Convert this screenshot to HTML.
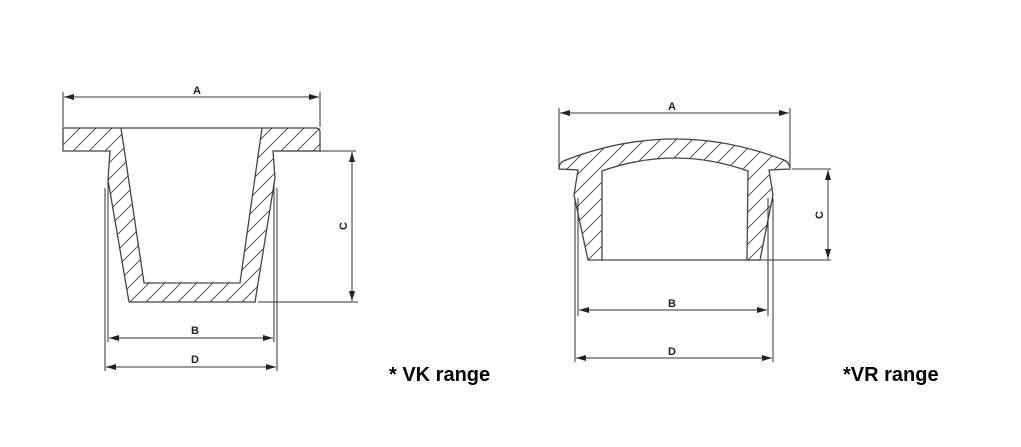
<!DOCTYPE html>
<html><head><style>
html,body{margin:0;padding:0;background:#fff;width:1021px;height:447px;overflow:hidden}
svg{display:block}
.o{stroke:#444;stroke-width:1.3}
.d{stroke:#333;stroke-width:1;fill:none}
.t{font-family:"Liberation Sans",sans-serif;font-weight:bold;font-size:11px;fill:#222}
.big{font-family:"Liberation Sans",sans-serif;font-weight:bold;font-size:20px;fill:#000}
</style></head><body>
<svg width="1021" height="447" viewBox="0 0 1021 447">
<defs>
<pattern id="h" patternUnits="userSpaceOnUse" x="0" y="0" width="16" height="16">
<path d="M0,16 L16,0 M-3,3 L3,-3 M13,19 L19,13" stroke="#555" stroke-width="1" fill="none"/>
</pattern>
<marker id="ae" markerWidth="10" markerHeight="6" refX="10" refY="3" orient="auto" markerUnits="userSpaceOnUse"><path d="M0,0 L10,3 L0,6Z" fill="#222"/></marker>
<marker id="as" markerWidth="10" markerHeight="6" refX="0" refY="3" orient="auto" markerUnits="userSpaceOnUse"><path d="M10,0 L0,3 L10,6Z" fill="#222"/></marker>
</defs>

<path d="M63,128 L316,128 Q320,128 320,132 L320,151 L273,151 L275,178 L255,302 L129,302 L108,180 L110,151 L63,151 Z M121,128 L144,283 L240,283 L262,128 Z" fill="url(#h)" fill-rule="evenodd" class="o"/>
<line class="d" x1="63" y1="92" x2="63" y2="127"/><line class="d" x1="320" y1="92" x2="320" y2="127"/>
<line class="d" x1="64" y1="97" x2="319" y2="97" marker-start="url(#as)" marker-end="url(#ae)"/>
<text class="t" x="197" y="94" text-anchor="middle">A</text>
<line class="d" x1="274" y1="151" x2="356" y2="151"/><line class="d" x1="258" y1="302" x2="358" y2="302"/>
<line class="d" x1="352" y1="152" x2="352" y2="301" marker-start="url(#as)" marker-end="url(#ae)"/>
<text class="t" transform="translate(347,226) rotate(-90)" text-anchor="middle">C</text>
<line class="d" x1="108" y1="182" x2="108" y2="342"/><line class="d" x1="274" y1="182" x2="274" y2="342"/>
<line class="d" x1="109" y1="338" x2="273" y2="338" marker-start="url(#as)" marker-end="url(#ae)"/>
<text class="t" x="195" y="334" text-anchor="middle">B</text>
<line class="d" x1="105" y1="188" x2="105" y2="371"/><line class="d" x1="277" y1="188" x2="277" y2="371"/>
<line class="d" x1="106" y1="367" x2="276" y2="367" marker-start="url(#as)" marker-end="url(#ae)"/>
<text class="t" x="195" y="363" text-anchor="middle">D</text>

<path d="M559,169 Q559,162 566,160 Q675,118 784,160 Q790,163 790,169 L769,170 L773,195 L760,260 L588,260 L574,195 L578,170 Z M602,171 Q675,145 748,171 L747,260 L602,260 Z" fill="url(#h)" fill-rule="evenodd" class="o"/>
<line class="d" x1="559" y1="108" x2="559" y2="168"/><line class="d" x1="790" y1="108" x2="790" y2="168"/>
<line class="d" x1="560" y1="113" x2="789" y2="113" marker-start="url(#as)" marker-end="url(#ae)"/>
<text class="t" x="672" y="110" text-anchor="middle">A</text>
<line class="d" x1="792" y1="169" x2="831" y2="169"/><line class="d" x1="746" y1="260" x2="831" y2="260"/>
<line class="d" x1="828" y1="170" x2="828" y2="259" marker-start="url(#as)" marker-end="url(#ae)"/>
<text class="t" transform="translate(823,215) rotate(-90)" text-anchor="middle">C</text>
<line class="d" x1="578" y1="198" x2="578" y2="316"/><line class="d" x1="768" y1="198" x2="768" y2="316"/>
<line class="d" x1="579" y1="310" x2="767" y2="310" marker-start="url(#as)" marker-end="url(#ae)"/>
<text class="t" x="672" y="307" text-anchor="middle">B</text>
<line class="d" x1="575" y1="198" x2="575" y2="362"/><line class="d" x1="773" y1="198" x2="773" y2="362"/>
<line class="d" x1="576" y1="358" x2="772" y2="358" marker-start="url(#as)" marker-end="url(#ae)"/>
<text class="t" x="672" y="355" text-anchor="middle">D</text>

<text class="big" x="389" y="381">* VK range</text>
<text class="big" x="843" y="381">*VR range</text>
</svg>
</body></html>
